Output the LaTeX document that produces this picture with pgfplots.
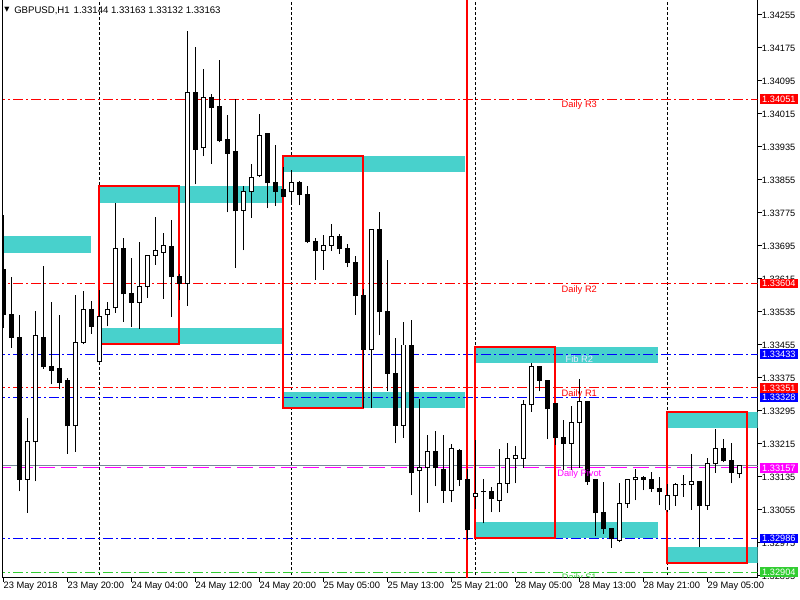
\documentclass[border=0pt]{standalone}
\usepackage{fontspec}
\setmainfont{Liberation Sans}
\newfontfamily\symfont{DejaVu Sans}
\usepackage{pgfplots}
\pgfplotsset{compat=1.18}
\usepackage{pgfplotstable}

\definecolor{zone}{RGB}{72,209,204}
\definecolor{mtred}{RGB}{255,0,0}
\definecolor{mtblue}{RGB}{0,0,255}
\definecolor{mtmag}{RGB}{255,0,255}
\definecolor{mtgreen}{RGB}{50,205,50}
\definecolor{bidgray}{RGB}{119,136,153}
\definecolor{fibtext}{RGB}{232,232,255}

% GBPUSD H1 candles: bar index, open, high, low, close
\pgfplotstableread{
k o h l c
0 1.33639 1.33770 1.33496 1.33528
1 1.33530 1.33620 1.33448 1.33474
2 1.33474 1.33528 1.33101 1.33130
3 1.33130 1.33278 1.33048 1.33220
4 1.33220 1.33537 1.33125 1.33477
5 1.33474 1.33647 1.33397 1.33402
6 1.33404 1.33559 1.33360 1.33394
7 1.33397 1.33528 1.33348 1.33365
8 1.33370 1.33375 1.33191 1.33259
9 1.33259 1.33576 1.33196 1.33462
10 1.33462 1.33586 1.33457 1.33542
11 1.33542 1.33562 1.33482 1.33501
12 1.33414 1.33588 1.33414 1.33525
13 1.33528 1.33559 1.33501 1.33542
14 1.33545 1.33799 1.33533 1.33690
15 1.33688 1.33714 1.33511 1.33579
16 1.33581 1.33666 1.33499 1.33559
17 1.33559 1.33705 1.33494 1.33598
18 1.33598 1.33673 1.33569 1.33673
19 1.33673 1.33765 1.33649 1.33683
20 1.33680 1.33727 1.33567 1.33695
21 1.33693 1.33758 1.33523 1.33620
22 1.33622 1.33627 1.33564 1.33605
23 1.33605 1.34216 1.33550 1.34068
24 1.34068 1.34177 1.33845 1.33930
25 1.33933 1.34124 1.33913 1.34056
26 1.34056 1.34063 1.33894 1.34030
27 1.34032 1.34146 1.33947 1.33950
28 1.33952 1.34013 1.33777 1.33920
29 1.33923 1.34051 1.33642 1.33780
30 1.33782 1.33840 1.33685 1.33826
31 1.33826 1.33894 1.33763 1.33862
32 1.33865 1.34015 1.33862 1.33964
33 1.33967 1.33967 1.33787 1.33848
34 1.33848 1.33940 1.33792 1.33828
35 1.33833 1.33887 1.33814 1.33814
36 1.33826 1.33879 1.33799 1.33850
37 1.33850 1.33853 1.33794 1.33821
38 1.33821 1.33840 1.33702 1.33705
39 1.33707 1.33714 1.33613 1.33685
40 1.33685 1.33722 1.33637 1.33697
41 1.33697 1.33748 1.33683 1.33717
42 1.33717 1.33724 1.33676 1.33688
43 1.33690 1.33700 1.33644 1.33656
44 1.33656 1.33671 1.33528 1.33574
45 1.33576 1.33591 1.33302 1.33445
46 1.33443 1.33736 1.33302 1.33734
47 1.33734 1.33777 1.33479 1.33535
48 1.33535 1.33661 1.33343 1.33387
49 1.33387 1.33472 1.33217 1.33261
50 1.33261 1.33511 1.33230 1.33455
51 1.33453 1.33516 1.33091 1.33145
52 1.33150 1.33324 1.33050 1.33157
53 1.33157 1.33237 1.33072 1.33196
54 1.33196 1.33247 1.33113 1.33157
55 1.33154 1.33237 1.33072 1.33103
56 1.33103 1.33215 1.33074 1.33203
57 1.33200 1.33203 1.33113 1.33130
58 1.33130 1.33154 1.32982 1.33007
59 1.33087 1.33225 1.33057 1.33096
60 1.33099 1.33130 1.33023 1.33099
61 1.33099 1.33111 1.33050 1.33082
62 1.33079 1.33203 1.33050 1.33120
63 1.33120 1.33217 1.33096 1.33179
64 1.33179 1.33210 1.33120 1.33186
65 1.33181 1.33322 1.33157 1.33310
66 1.33310 1.33411 1.33293 1.33402
67 1.33402 1.33402 1.33343 1.33370
68 1.33370 1.33370 1.33227 1.33300
69 1.33312 1.33312 1.33213 1.33230
70 1.33230 1.33273 1.33152 1.33217
71 1.33217 1.33307 1.33152 1.33268
72 1.33268 1.33373 1.33157 1.33319
73 1.33319 1.33319 1.33116 1.33123
74 1.33128 1.33128 1.32992 1.33048
75 1.33048 1.33123 1.32997 1.33009
76 1.33011 1.33011 1.32963 1.32985
77 1.32982 1.33120 1.32977 1.33070
78 1.33070 1.33130 1.33060 1.33128
79 1.33128 1.33154 1.33079 1.33133
80 1.33133 1.33137 1.33103 1.33130
81 1.33128 1.33147 1.33099 1.33106
82 1.33108 1.33135 1.33067 1.33099
83 1.33055 1.33118 1.33050 1.33091
84 1.33089 1.33120 1.33065 1.33118
85 1.33118 1.33140 1.33087 1.33116
86 1.33116 1.33191 1.33055 1.33123
87 1.33123 1.33125 1.32965 1.33065
88 1.33065 1.33181 1.33055 1.33167
89 1.33167 1.33251 1.33145 1.33203
90 1.33205 1.33227 1.33171 1.33174
91 1.33174 1.33217 1.33120 1.33147
92 1.33144 1.33163 1.33132 1.33163
}\ohlc

\tikzset{
  dashdot/.style={dash pattern=on 7.5pt off 2.25pt on 1.5pt off 2.25pt},
  mtdash/.style={dash pattern=on 12pt off 4.5pt},
  gridline/.style={black, line width=0.75pt, dash pattern=on 2.25pt off 1.5pt},
  lvltext/.style={anchor=north, inner sep=0pt, yshift=-1.2pt, font=\fontsize{7}{8}\selectfont},
  pricebox/.style={anchor=west, inner xsep=1.5pt, inner ysep=0pt, minimum height=7.2pt, text=white, font=\fontsize{6.9}{8}\selectfont},
}
\pgfplotsset{nomark/.style={only marks, mark=*, mark size=0pt, mark options={draw=none, fill=none}}}

\begin{document}
\begin{tikzpicture}
\useasboundingbox (-2.025pt,-16.5pt) rectangle (597.975pt,433.5pt);
\begin{axis}[
  at={(0pt,0pt)}, anchor=south west,
  scale only axis, width=566.25pt, height=433.5pt,
  xmin=-0.075, xmax=94.3, ymin=-109.85, ymax=1291.36,
  axis x line*=bottom, axis y line*=right,
  axis line style={line width=0.75pt, black},
  tick align=outside, major tick length=3pt,
  tick style={line width=0.75pt, black},
  xtick={0,8,16,24,32,40,48,56,64,72,80,88},
  xticklabels={23 May 2018,23 May 20:00,24 May 04:00,24 May 12:00,24 May 20:00,25 May 05:00,25 May 13:00,25 May 21:00,28 May 05:00,28 May 13:00,28 May 21:00,29 May 05:00},
  xticklabel style={anchor=north west, inner sep=0pt, font=\fontsize{7}{8}\selectfont},
  ytick={1255,1175,1095,1015,935,855,775,695,615,535,455,375,295,215,135,55,-25,-105},
  yticklabels={1.34255,1.34175,1.34095,1.34015,1.33935,1.33855,1.33775,1.33695,1.33615,1.33535,1.33455,1.33375,1.33295,1.33215,1.33135,1.33055,1.32975,1.32895},
  yticklabel style={anchor=west, inner sep=0pt, font=\fontsize{6.9}{8}\selectfont},
]
% vertical grid
\addplot[gridline] coordinates {(12,-200) (12,1400)};
\addplot[gridline] coordinates {(36,-200) (36,1400)};
\addplot[gridline] coordinates {(59,-200) (59,1400)};
\addplot[gridline] coordinates {(83,-200) (83,1400)};
% supply / demand zones (y in 1e-5 above 1.33000)
\addplot[fill=zone, draw=none] coordinates {(-1,719) (10.96,719) (10.96,678) (-1,678)} -- cycle;
\addplot[fill=zone, draw=none] coordinates {(12,840) (34.84,840) (34.84,799) (12,799)} -- cycle;
\addplot[fill=zone, draw=none] coordinates {(12,496) (34.84,496) (34.84,457) (12,457)} -- cycle;
\addplot[fill=zone, draw=none] coordinates {(35,913) (57.7,913) (57.7,874) (35,874)} -- cycle;
\addplot[fill=zone, draw=none] coordinates {(35,341) (57.7,341) (57.7,302) (35,302)} -- cycle;
\addplot[fill=zone, draw=none] coordinates {(59,450) (81.84,450) (81.84,411) (59,411)} -- cycle;
\addplot[fill=zone, draw=none] coordinates {(59,26) (81.84,26) (81.84,-13) (59,-13)} -- cycle;
\addplot[fill=zone, draw=none] coordinates {(83,293) (96,293) (96,254) (83,254)} -- cycle;
\addplot[fill=zone, draw=none] coordinates {(83,-35) (96,-35) (96,-73) (83,-73)} -- cycle;
% pivot levels
\addplot[mtred, line width=0.75pt, dashdot] coordinates {(-1,1051) (96,1051)};
\addplot[mtred, line width=0.75pt, dashdot] coordinates {(-1,604) (96,604)};
\addplot[mtblue, line width=0.75pt, dashdot] coordinates {(-1,433) (96,433)};
\addplot[mtred, line width=0.75pt, dashdot] coordinates {(-1,351) (96,351)};
\addplot[mtblue, line width=0.75pt, dashdot] coordinates {(-1,328) (96,328)};
\addplot[bidgray, line width=0.75pt] coordinates {(-1,163) (96,163)};
\addplot[mtmag, line width=0.75pt, mtdash] coordinates {(-1,157) (96,157)};
\addplot[mtblue, line width=0.75pt, dashdot] coordinates {(-1,-14) (96,-14)};
\addplot[mtgreen, line width=0.75pt, dashdot] coordinates {(-1,-96) (96,-96)};
% red vertical line
\addplot[mtred, line width=1.5pt] coordinates {(58,-200) (58,1400)};
% red boxes
\addplot[mtred, line width=1.5pt, line join=miter] coordinates {(12,840) (22,840) (22,457) (12,457)} -- cycle;
\addplot[mtred, line width=1.5pt, line join=miter] coordinates {(35,913) (45,913) (45,302) (35,302)} -- cycle;
\addplot[mtred, line width=1.5pt, line join=miter] coordinates {(59,450) (69,450) (69,-13) (59,-13)} -- cycle;
\addplot[mtred, line width=1.5pt, line join=miter] coordinates {(83,293) (93,293) (93,-73) (83,-73)} -- cycle;
% candles: wicks
\addplot[nomark, error bars/.cd, y dir=plus, y explicit, error mark=none,
  error bar style={line width=0.75pt, draw=black}]
  table[x=k, y expr={(\thisrow{l}-1.33)*100000}, y error expr={(\thisrow{h}-\thisrow{l})*100000}] {\ohlc};
% candles: bodies
\addplot[nomark, error bars/.cd, y dir=plus, y explicit, error mark=none,
  error bar style={line width=3.75pt, draw=black}]
  table[x=k, y expr={(min(\thisrow{o},\thisrow{c})-1.33)*100000-1.2}, y error expr={abs(\thisrow{c}-\thisrow{o})*100000+2.4}] {\ohlc};
% candles: white interior of bullish bodies
\addplot[nomark, restrict expr to domain={(\thisrow{c}-\thisrow{o})*100000}{3:3000},
  error bars/.cd, y dir=plus, y explicit, error mark=none,
  error bar style={line width=2.25pt, draw=white}]
  table[x=k, y expr={(\thisrow{o}-1.33)*100000+1.2}, y error expr={(\thisrow{c}-\thisrow{o})*100000-2.4}] {\ohlc};
% level texts
\addplot[draw=none] coordinates {(72,1051)} node[lvltext, text=mtred] {Daily R3};
\addplot[draw=none] coordinates {(72,604)} node[lvltext, text=mtred] {Daily R2};
\addplot[draw=none] coordinates {(72,433)} node[lvltext, text=fibtext] {Fib R2};
\addplot[draw=none] coordinates {(72,351)} node[lvltext, text=mtred] {Daily R1};
\addplot[draw=none] coordinates {(72,157)} node[lvltext, text=mtmag] {Daily Pivot};
\addplot[draw=none] coordinates {(72,-96)} node[lvltext, text=mtgreen] {Daily S1};
% anchors for the price boxes
\coordinate (p1) at (axis cs:94.3,1051);
\coordinate (p2) at (axis cs:94.3,604);
\coordinate (p3) at (axis cs:94.3,433);
\coordinate (p4) at (axis cs:94.3,351);
\coordinate (p5) at (axis cs:94.3,328);
\coordinate (p6) at (axis cs:94.3,157);
\coordinate (p7) at (axis cs:94.3,-14);
\coordinate (p8) at (axis cs:94.3,-96);
\end{axis}
\draw[line width=0.75pt] (0,0) -- (0,433.5pt);
\node[pricebox, fill=mtred] at ([xshift=1.7pt]p1) {1.34051};
\node[pricebox, fill=mtred] at ([xshift=1.7pt]p2) {1.33604};
\node[pricebox, fill=mtblue] at ([xshift=1.7pt]p3) {1.33433};
\node[pricebox, fill=mtred] at ([xshift=1.7pt]p4) {1.33351};
\node[pricebox, fill=mtblue] at ([xshift=1.7pt]p5) {1.33328};
\node[pricebox, fill=mtmag] at ([xshift=1.7pt]p6) {1.33157};
\node[pricebox, fill=mtblue] at ([xshift=1.7pt]p7) {1.32986};
\node[pricebox, fill=mtgreen] at ([xshift=1.7pt]p8) {1.32904};
\node[inner sep=0pt, font=\symfont\fontsize{5}{6}\selectfont] at (3.2pt,426.4pt) {▼};
\node[anchor=base west, inner sep=0pt, font=\fontsize{7.2}{8}\selectfont] at (8.475pt,423.5pt) {GBPUSD,H1\hspace{3pt}1.33144 1.33163 1.33132 1.33163};
\end{tikzpicture}
\end{document}
